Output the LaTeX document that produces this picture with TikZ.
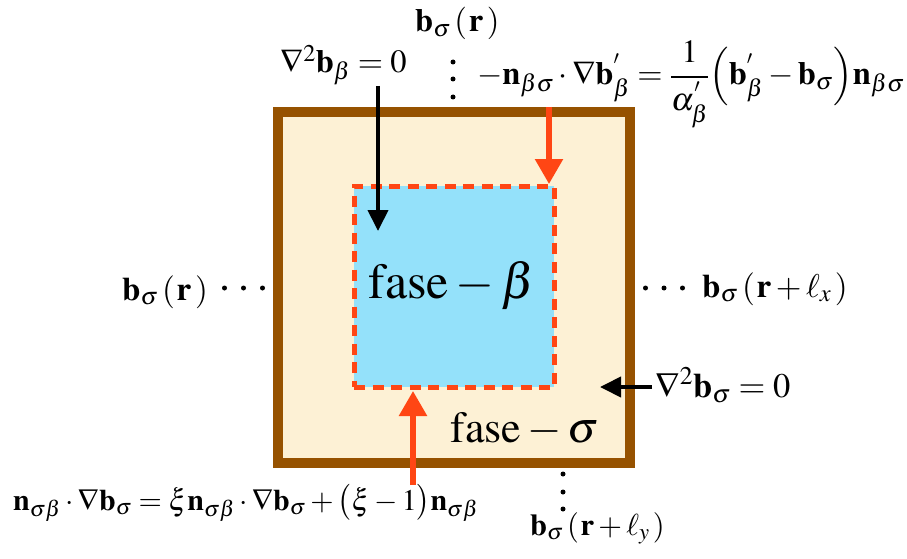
\documentclass[tikz,border=0pt]{standalone}
\usepackage{amsmath}
\usepackage{mathptmx}
\usetikzlibrary{arrows.meta}
\definecolor{brownb}{RGB}{150,82,0}
\definecolor{cream}{RGB}{253,241,213}
\definecolor{skyb}{RGB}{148,225,250}
\definecolor{redo}{RGB}{255,70,20}
\newcommand{\lpar}{\mkern2mu(\mkern1mu}
\newcommand{\rpar}{\mkern2mu)}
\begin{document}
\begin{tikzpicture}[x=1pt,y=-1pt,
  lbl/.style={inner sep=0pt, anchor=base west, font=\fontsize{#1}{#1}\selectfont},
  big/.style={inner sep=0pt, anchor=base, font=\fontsize{#1}{#1}\selectfont},
  dotmark/.style={fill=black, draw=none, circle, inner sep=0pt, minimum size=5pt},
  blackarrow/.style={line width=4pt, -{Triangle[width=20pt,length=21pt]}},
  redarrow/.style={line width=5.5pt, redo, -{Triangle[width=27pt,length=25pt]}}]
\useasboundingbox (0,0) rectangle (907,559);

% boxes
\node (sigma) [draw=brownb, fill=cream, line width=10pt, minimum width=351.5pt, minimum height=351pt, inner sep=0pt] at (453.75,287.5) {};
\node (beta) [fill=skyb, draw=redo, line width=5pt, dash pattern=on 11pt off 7.5pt, minimum width=200pt, minimum height=201pt, inner sep=0pt] at (454,286.5) {};

% phase labels
\node (fb) [big=50] at (452,298) {$\mathrm{fase}-\beta$};
\node (fs) [big=44] at (525,442) {$\mathrm{fase}-\sigma$};

% coordinates for arrows
\coordinate (ba0) at (378,86);
\coordinate (ba1) at (378,231);
\coordinate (rt0) at (549,107);
\coordinate (rt1) at (549,184);
\coordinate (rb0) at (413,485);
\coordinate (rb1) at (413,391);
\coordinate (ra0) at (652,387);
\coordinate (ra1) at (600,387);

\draw[blackarrow] (ba0) -- (ba1);
\draw[redarrow] (rt0) -- (rt1);
\draw[redarrow] (rb0) -- (rb1);
\draw[blackarrow] (ra0) -- (ra1);

% labels
\node (ltop) [lbl=32.5] at (415,32) {$\mathbf{b}_{\sigma}\lpar\mathbf{r}\rpar$};
\node (lapb) [lbl=32.5] at (280,73) {$\nabla^{2}\mathbf{b}_{\beta}=0$};
\node (ftop) [lbl=32.5] at (477,85) {$-\mathbf{n}_{\beta\sigma}\cdot\nabla\mathbf{b}^{'}_{\beta}=\dfrac{1}{\alpha^{'}_{\beta}}\Bigl(\mathbf{b}^{'}_{\beta}-\mathbf{b}_{\sigma}\Bigr)\mathbf{n}_{\beta\sigma}$};
\node (lleft) [lbl=33] at (122,300) {$\mathbf{b}_{\sigma}\lpar\mathbf{r}\rpar$};
\node (lright) [lbl=33] at (702,297) {$\mathbf{b}_{\sigma}\lpar\mathbf{r}+\ell_{x}\rpar$};
\node (laps) [lbl=34.5] at (655,397) {$\nabla^{2}\mathbf{b}_{\sigma}=0$};
\node (fbot) [lbl=30] at (13,510) {$\mathbf{n}_{\sigma\beta}\cdot\nabla\mathbf{b}_{\sigma}=\xi\mathbf{n}_{\sigma\beta}\cdot\nabla\mathbf{b}_{\sigma}+\bigl(\xi-1\bigr)\mathbf{n}_{\sigma\beta}$};
\node (lbot) [lbl=30.5] at (530,535) {$\mathbf{b}_{\sigma}\lpar\mathbf{r}+\ell_{y}\rpar$};

% ellipsis dots
\foreach \yy [count=\i] in {62,79,97} \node (dt\i) [dotmark] at (453,\yy) {};
\foreach \yy [count=\i] in {474,492,509} \node (db\i) [dotmark] at (563,\yy) {};
\foreach \xx [count=\i] in {224.5,243.5,262.5} \node (dl\i) [dotmark] at (\xx,288) {};
\foreach \xx [count=\i] in {645.5,664,682.5} \node (dr\i) [dotmark] at (\xx,288) {};
\end{tikzpicture}
\end{document}
